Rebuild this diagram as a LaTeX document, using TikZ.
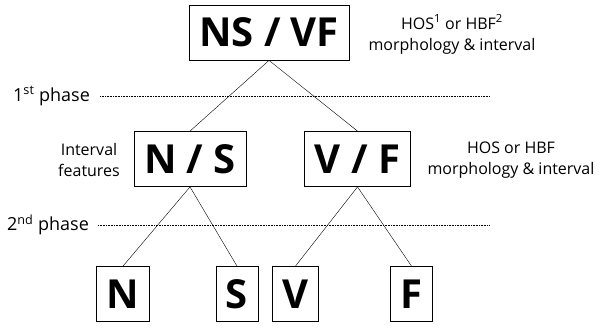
\documentclass[tikz,border=0pt]{standalone}
\usepackage{fontspec}
\setmainfont{Open Sans}
\tikzset{
  cls/.style={rectangle, draw, thick, minimum height=55pt, inner xsep=10pt, inner ysep=0pt,
              font=\fontsize{40}{44}\selectfont\bfseries},
  note/.style={align=center, inner sep=0pt, font=\fontsize{16}{21}\selectfont},
  phase/.style={inner sep=0pt, font=\fontsize{18}{21}\selectfont},
  phaseline/.style={densely dotted, line width=0.6pt}
}
\begin{document}
\begin{tikzpicture}[x=1pt, y=-1pt]

	\useasboundingbox (0,0) rectangle (605,329);

	\node [cls] (all) at (269,32.5) {NS / VF};
	
	\node [cls] (ns) at (190,159) {N / S};
	\node [cls] (vf) at (357.5,159) {V / F};
	
	\node [cls] (n) at (123,294) {N};
	\node [cls] (s) at (237,294) {S};
	\node [cls] (v) at (295.5,294) {V};
	\node [cls] (f) at (411.5,294) {F};
	
	\node [note] (note1) at (452,34.5) {HOS\textsuperscript{1} or HBF\textsuperscript{2}\\morphology \& interval};
	\node [note] (note2) at (511,160) {HOS or HBF\\morphology \& interval};
	\node [note] (feat) at (89,160) {Interval\\features};
	
	\node [phase, anchor=west] (p1) at (13,96) {1\textsuperscript{st} phase};
	\node [phase, anchor=west] (p2) at (7,225) {2\textsuperscript{nd} phase};
	\coordinate (p1end) at (490,96);
	\coordinate (p2end) at (490,225);
	\draw [phaseline, shorten <=10pt] (p1.east) -- (p1end);
	\draw [phaseline, shorten <=9pt] (p2.east) -- (p2end);
	
	\draw (all.south) -- (ns.north);
	\draw (all.south) -- (vf.north);
	
	\draw (ns.south) -- (n.north);
	\draw (ns.south) -- (s.north);
	\draw (vf.south) -- (v.north);
	\draw (vf.south) -- (f.north);

\end{tikzpicture}
\end{document}
